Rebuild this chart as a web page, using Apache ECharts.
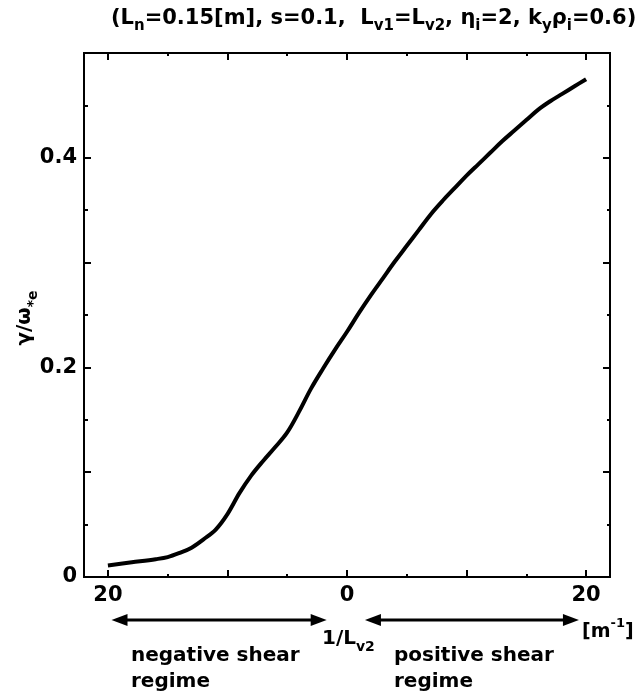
<!DOCTYPE html>
<html>
<head>
<meta charset="utf-8">
<script src="https://cdn.jsdelivr.net/npm/echarts@6/dist/echarts.min.js"></script>
<style>
html,body{margin:0;padding:0;background:#fff;}
#c{width:644px;height:696px;}
</style>
</head>
<body>
<div id="c"></div>
<script>
// 1/L_v2 [m^-1] (negative = negative shear regime, shown as absolute value)
var xVals = [-20,-18,-16,-15,-14,-13,-12,-11,-10,-9,-8,-7,-6,-5,-4,-3,-2,-1,0,1,2,3,4,5,6,7,8,9,10,11,12,13,14,15,16,17,18,19,20];
// gamma / omega*e
var yVals = [0.011,0.014,0.017,0.019,0.023,0.028,0.036,0.045,0.060,0.080,0.097,0.111,0.124,0.138,0.158,0.180,0.199,0.217,0.234,0.252,0.269,0.285,0.301,0.316,0.331,0.346,0.359,0.371,0.383,0.394,0.405,0.416,0.426,0.436,0.446,0.454,0.461,0.468,0.475];
var xMajorTicks = [-20,-10,0,10,20];
var xMinorTicks = [-15,-5,5,15];
var xTickLabels = [-20,0,20];
var yTickLabels = [0,0.2,0.4];

var FONT = 'DejaVu Sans';
var data = xVals.map(function(x,i){return [x,yVals[i]];});

var chart = echarts.init(document.getElementById('c'), null, {renderer:'canvas'});

function xAxisCfg(pos, ticks, len, labels){
  return {
    type:'value', position:pos, min:-22, max:22,
    axisLine:{show:true, onZero:false, lineStyle:{color:'#000', width:2}},
    axisTick:{show:true, inside:true, length:len, customValues:ticks, lineStyle:{color:'#000', width:2}},
    axisLabel: labels ? {show:true, customValues:labels, margin:8, color:'#000', fontFamily:FONT, fontSize:21, fontWeight:'bold',
      formatter:function(v){return String(Math.abs(v));}} : {show:false},
    splitLine:{show:false}
  };
}

var option = {
  animation:false,
  backgroundColor:'#fff',
  grid:{left:84, right:34, top:53, bottom:119, containLabel:false},
  title:{
    text:'{m|(L}{s|n}{m|=0.15[m], s=0.1,  L}{s|v1}{m|=L}{s|v2}{m|, η}{s|i}{m|=2, k}{s|y}{m|ρ}{s|i}{m|=0.6)}',
    left:106, top:8,
    textStyle:{
      color:'#000', fontFamily:FONT, fontSize:21, fontWeight:'bold',
      rich:{
        m:{fontSize:21, fontFamily:FONT, fontWeight:'bold', color:'#000', verticalAlign:'bottom', lineHeight:21, padding:[0,0,5,0]},
        s:{fontSize:15, fontFamily:FONT, fontWeight:'bold', color:'#000', verticalAlign:'bottom', lineHeight:15}
      }
    }
  },
  xAxis:[
    xAxisCfg('bottom', xMajorTicks, 7, xTickLabels),
    xAxisCfg('bottom', xMinorTicks, 3, null),
    xAxisCfg('top', xMajorTicks, 7, null),
    xAxisCfg('top', xMinorTicks, 3, null)
  ],
  yAxis:[
    {
      type:'value', position:'left', min:0, max:0.5, interval:0.1,
      axisLine:{show:true, onZero:false, lineStyle:{color:'#000', width:2}},
      axisTick:{show:true, inside:true, length:7, lineStyle:{color:'#000', width:2}},
      minorTick:{show:true, splitNumber:2, length:4, lineStyle:{color:'#000', width:2}},
      axisLabel:{show:true, customValues:yTickLabels, margin:7, color:'#000', fontFamily:FONT, fontSize:21, fontWeight:'bold',
        formatter:function(v){return v===0?'0':v.toFixed(1);}},
      splitLine:{show:false}
    },
    {
      type:'value', position:'right', min:0, max:0.5, interval:0.1,
      axisLine:{show:true, onZero:false, lineStyle:{color:'#000', width:2}},
      axisTick:{show:true, inside:true, length:7, lineStyle:{color:'#000', width:2}},
      minorTick:{show:true, splitNumber:2, length:3, lineStyle:{color:'#000', width:2}},
      axisLabel:{show:false},
      splitLine:{show:false}
    }
  ],
  series:[{
    type:'line', xAxisIndex:0, yAxisIndex:0, data:data, smooth:0.35,
    showSymbol:false, symbol:'none',
    lineStyle:{color:'#000', width:4}
  }]
};
chart.setOption(option);

// Annotations: y-axis title, double-headed arrows and labels below the axis
function px(x){ return chart.convertToPixel({xAxisIndex:0}, x); }
var arrowY = 620;
function arrow(x1, x2){
  var a = px(x1), b = px(x2), h = 6, w = 16;
  return [
    {type:'line', shape:{x1:a+w-2, y1:arrowY, x2:b-w+2, y2:arrowY}, style:{stroke:'#000', lineWidth:3}},
    {type:'polygon', shape:{points:[[a,arrowY],[a+w,arrowY-h],[a+w,arrowY+h]]}, style:{fill:'#000'}},
    {type:'polygon', shape:{points:[[b,arrowY],[b-w,arrowY-h],[b-w,arrowY+h]]}, style:{fill:'#000'}}
  ];
}
var B = 'bold ';
var subRich = {
  m:{fontSize:20, fontFamily:FONT, fontWeight:'bold', fill:'#000', verticalAlign:'bottom', lineHeight:20, padding:[0,0,5,0]},
  s:{fontSize:14, fontFamily:FONT, fontWeight:'bold', fill:'#000', verticalAlign:'bottom', lineHeight:14},
  p:{fontSize:13, fontFamily:FONT, fontWeight:'bold', fill:'#000', verticalAlign:'top', lineHeight:13},
  b:{fontSize:19, fontFamily:FONT, fontWeight:'bold', fill:'#000', verticalAlign:'top', lineHeight:19, padding:[6,0,0,0]}
};
var g = [].concat(
  arrow(-19.7, -1.7),
  arrow(1.5, 19.4),
  [
    {type:'text', x:30, y:318, rotation:Math.PI/2,
      style:{text:'{m|γ/ω}{s|*e}', align:'center', verticalAlign:'middle', rich:subRich}},
    {type:'text', left:131, top:643, style:{text:'negative shear\nregime', fill:'#000', font:B+'20px "DejaVu Sans"', lineHeight:26}},
    {type:'text', left:394, top:643, style:{text:'positive shear\nregime', fill:'#000', font:B+'20px "DejaVu Sans"', lineHeight:26}},
    {type:'text', left:322, top:629, style:{text:'{m|1/L}{s|v2}', rich:subRich}},
    {type:'text', left:582, top:617, style:{text:'{b|[m}{p|-1}{b|]}', rich:subRich}}
  ]
);
chart.setOption({graphic:g});
</script>
</body>
</html>
